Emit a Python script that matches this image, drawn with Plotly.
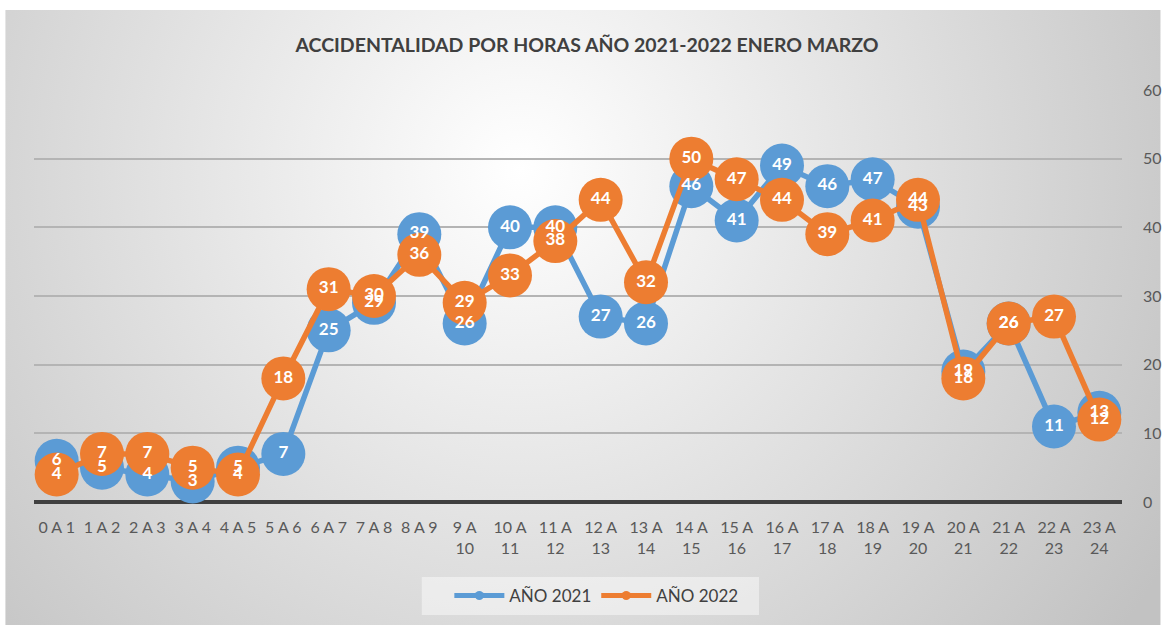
"""Accidentalidad por horas, enero-marzo 2021 vs 2022."""

import base64

import plotly.graph_objects as go

# Hour ranges (x categories)
hours = [
    "0 A 1", "1 A 2", "2 A 3", "3 A 4", "4 A 5", "5 A 6", "6 A 7", "7 A 8",
    "8 A 9", "9 A<br>10", "10 A<br>11", "11 A<br>12", "12 A<br>13",
    "13 A<br>14", "14 A<br>15", "15 A<br>16", "16 A<br>17", "17 A<br>18",
    "18 A<br>19", "19 A<br>20", "20 A<br>21", "21 A<br>22", "22 A<br>23",
    "23 A<br>24",
]

year_2021 = [6, 5, 4, 3, 5, 7, 25, 29, 39, 26, 40, 40, 27, 26, 46, 41, 49, 46, 47, 43, 19, 26, 11, 13]
year_2022 = [4, 7, 7, 5, 4, 18, 31, 30, 36, 29, 33, 38, 44, 32, 50, 47, 44, 39, 41, 44, 18, 26, 27, 12]

y_ticks = [0, 10, 20, 30, 40, 50, 60]

BLUE = "#5B9BD5"
ORANGE = "#ED7D31"
FONT = "Lato"

W, H = 1174, 627
L, R, T, B = 34, 43, 90, 125
plot_w = W - L - R
plot_h = H - T - B

# Radial grey background like the spreadsheet chart area
bg_svg = (
    '<svg xmlns="http://www.w3.org/2000/svg" width="1165" height="615" '
    'viewBox="0 0 1165 615" preserveAspectRatio="none">'
    '<defs><radialGradient id="g" gradientUnits="userSpaceOnUse" cx="520" cy="160" r="760">'
    '<stop offset="0" stop-color="#ffffff"/>'
    '<stop offset="1" stop-color="#c2c2c2"/>'
    "</radialGradient></defs>"
    '<rect width="1165" height="615" fill="url(#g)"/></svg>'
)
bg_src = "data:image/svg+xml;base64," + base64.b64encode(bg_svg.encode()).decode()


def px_x(x):
    return (x - L) / plot_w


def px_y(y):
    return (H - B - y) / plot_h


fig = go.Figure()

for name, vals, color in [("AÑO 2021", year_2021, BLUE), ("AÑO 2022", year_2022, ORANGE)]:
    fig.add_trace(
        go.Scatter(
            x=hours,
            y=vals,
            mode="lines+markers",
            line=dict(color=color, width=5.5),
            marker=dict(color=color, size=44),
            cliponaxis=False,
            showlegend=False,
            name=name,
        )
    )

# Data labels on top of all markers
for vals in [year_2021, year_2022]:
    fig.add_trace(
        go.Scatter(
            x=hours,
            y=vals,
            mode="text",
            text=[str(v) for v in vals],
            textposition="middle center",
            textfont=dict(family=FONT, size=17, color="white", weight="bold"),
            cliponaxis=False,
            showlegend=False,
            hoverinfo="skip",
        )
    )

# Legend entries with small markers
for name, color in [("AÑO 2021", BLUE), ("AÑO 2022", ORANGE)]:
    fig.add_trace(
        go.Scatter(
            x=[None],
            y=[None],
            mode="lines+markers",
            line=dict(color=color, width=5),
            marker=dict(color=color, size=9),
            name=name,
        )
    )

fig.update_layout(
    width=W,
    height=H,
    margin=dict(l=L, r=R, t=T, b=B),
    paper_bgcolor="white",
    plot_bgcolor="rgba(0,0,0,0)",
    title=dict(
        text="<b>ACCIDENTALIDAD POR HORAS AÑO 2021-2022 ENERO MARZO</b>",
        x=0.5,
        xanchor="center",
        y=1 - 45 / H,
        yanchor="middle",
        yref="container",
        font=dict(family=FONT, size=19.5, color="#404040"),
    ),
    xaxis=dict(
        type="category",
        range=[-0.5, 23.5],
        showgrid=False,
        zeroline=False,
        showline=False,
        tickfont=dict(family=FONT, size=16, color="#595959"),
        ticks="",
        ticklabelstandoff=14,
    ),
    yaxis=dict(
        side="right",
        range=[0, 60],
        tickvals=y_ticks,
        showgrid=True,
        gridcolor="#b4b4b4",
        gridwidth=1.5,
        zeroline=True,
        zerolinecolor="#404040",
        zerolinewidth=4,
        showline=False,
        ticks="",
        ticklabelstandoff=20,
        tickfont=dict(family=FONT, size=16, color="#595959"),
    ),
    legend=dict(
        orientation="h",
        x=px_x(601),
        xanchor="center",
        y=px_y(596),
        yanchor="middle",
        bgcolor="rgba(0,0,0,0)",
        font=dict(family=FONT, size=17, color="#404040"),
        itemwidth=50,
    ),
    images=[
        dict(
            source=bg_src,
            xref="paper",
            yref="paper",
            x=px_x(5),
            y=px_y(10),
            sizex=1165 / plot_w,
            sizey=615 / plot_h,
            xanchor="left",
            yanchor="top",
            sizing="stretch",
            layer="below",
        )
    ],
    shapes=[
        dict(
            type="rect",
            xref="paper",
            yref="paper",
            x0=px_x(425),
            x1=px_x(765),
            y0=px_y(615),
            y1=px_y(577),
            line=dict(width=0),
            fillcolor="rgba(255,255,255,0.45)",
            layer="below",
        )
    ],
)

# Drop the default page margin so the chart sits at the window's top-left corner
fig.write_html(
    "out.html",
    config={"displayModeBar": False},
    post_script="document.body.style.margin='0';document.body.style.overflow='hidden';",
)
